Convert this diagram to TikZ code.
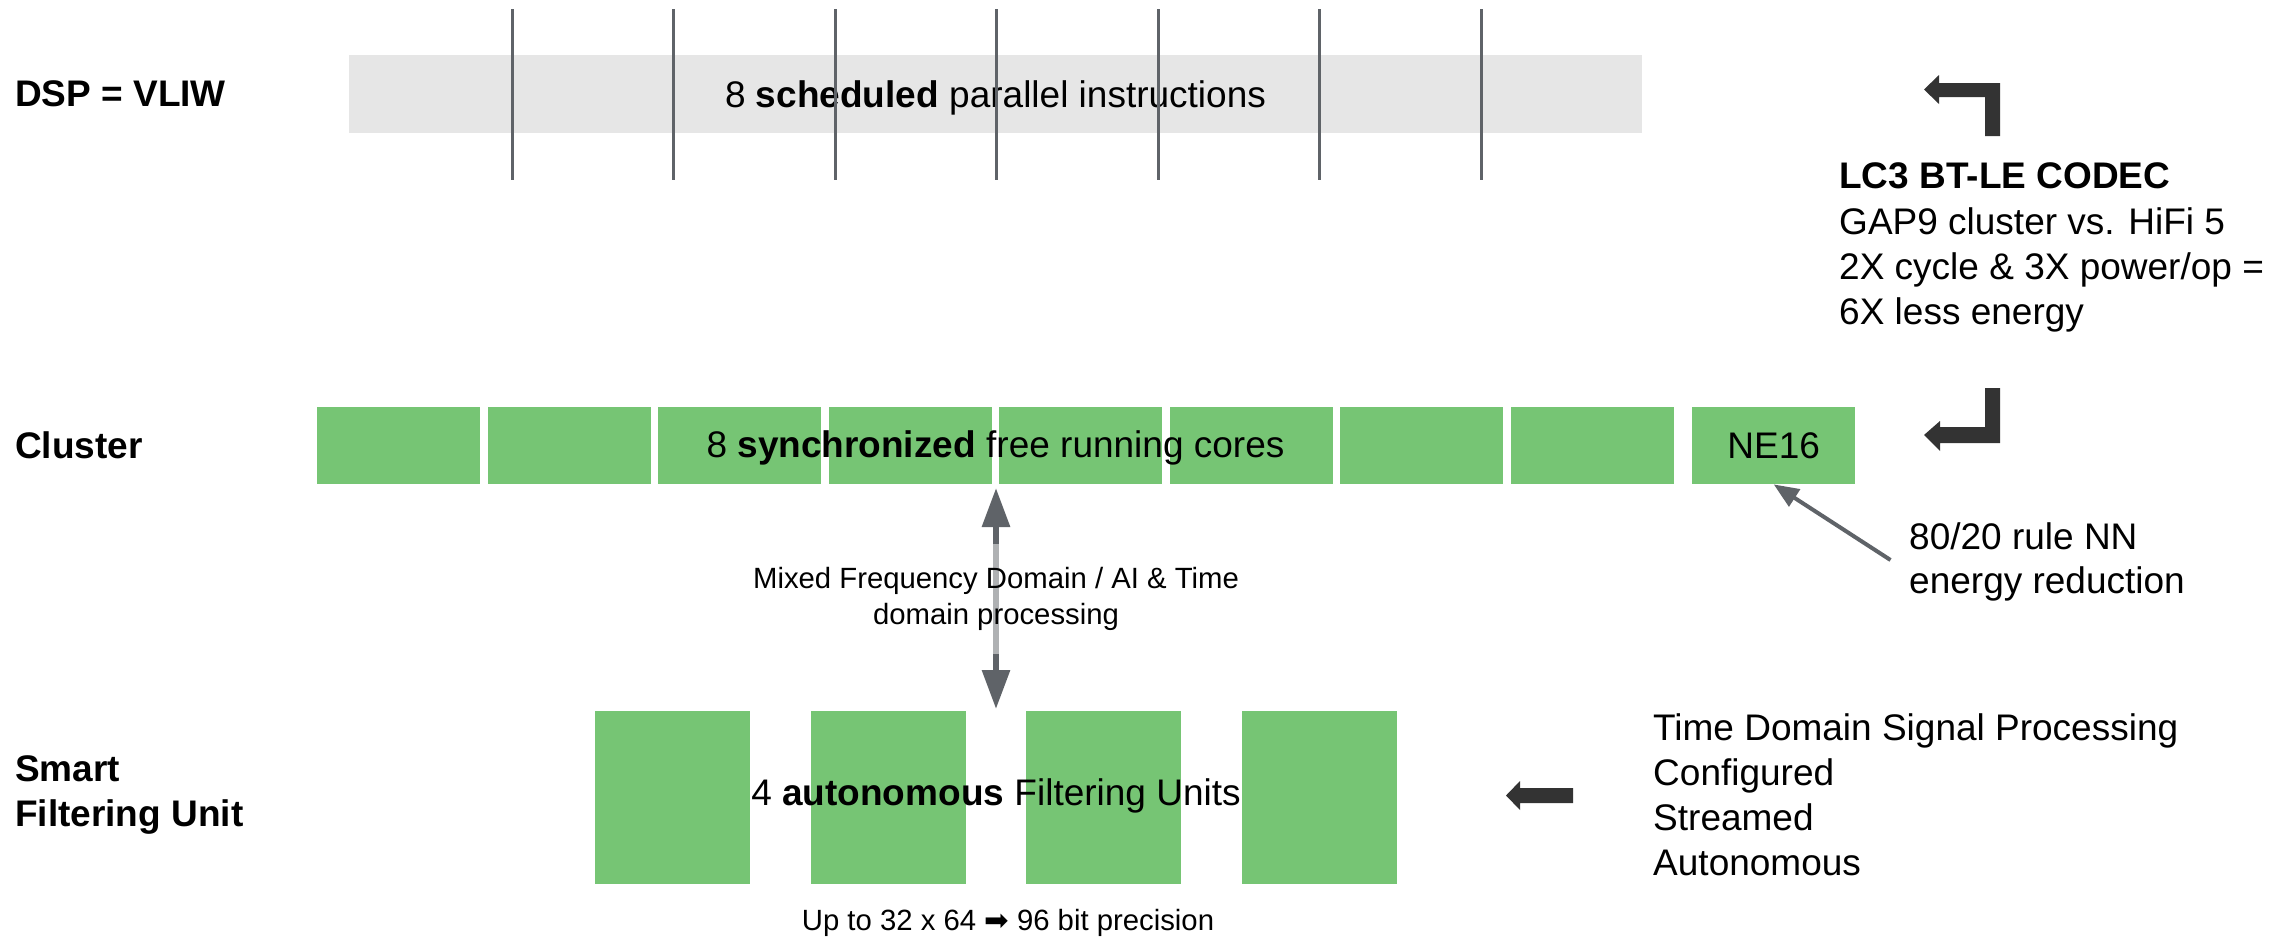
\documentclass[tikz,border=0pt]{standalone}
\usepackage{fontspec}
\setmainfont{Liberation Sans}
\newfontfamily\arrowfont{DejaVu Sans}
\usetikzlibrary{arrows.meta}
\definecolor{coregreen}{RGB}{118,197,116}
\definecolor{barwash}{RGB}{230,230,230}
\definecolor{slate}{RGB}{95,99,104}
\definecolor{ink}{RGB}{51,51,51}
\begin{document}
\begin{tikzpicture}[x=1pt,y=-1pt,
  big/.style={font=\fontsize{37}{45}\selectfont, inner sep=0pt, anchor=base west},
  small/.style={font=\fontsize{29.3}{36}\selectfont, inner sep=0pt, anchor=base west},
  capbox/.style={text height=26.5pt, text depth=0pt},
  vliwbar/.style={big, capbox, fill=barwash, minimum width=1293pt, minimum height=78pt, anchor=center},
  core/.style={fill=coregreen, draw=none, inner sep=0pt, minimum width=163pt, minimum height=77pt, anchor=north west},
  unit/.style={fill=coregreen, draw=none, inner sep=0pt, minimum width=155pt, minimum height=173pt, anchor=north west},
  slot/.style={draw=slate, line width=3pt},
  link/.style={draw=slate, line width=6pt},
  bigarrow/.style={fill=ink, draw=none}
]
\useasboundingbox (0,0) rectangle (2281,937);

% row labels
\node[big] (lbldsp) at (15,106) {\textbf{DSP = VLIW}};
\node[big] (lblcluster) at (15,458) {\textbf{Cluster}};
\node[big] (lblsfu1) at (15,781) {\textbf{Smart}};
\node[big] (lblsfu2) at (15,826) {\textbf{Filtering Unit}};

% VLIW instruction word with its issue slots
\node[vliwbar] (vliw) at (995.5,94) {8 \textbf{scheduled} parallel instructions};
\foreach \i in {0,...,6}
  \draw[slot] ({512+161.5*\i},9) -- ({512+161.5*\i},180);

% cluster cores and the neural engine
\foreach \i in {1,...,8}
  \node[core] (c\i) at ({317+170.5*(\i-1)},407) {};
\node[core, big, capbox, anchor=north west] (ne) at (1692,407) {NE16};
\node[big, anchor=base] (coretxt) at (995.5,457.5) {8 \textbf{synchronized} free running cores};

% smart filtering units
\foreach \i in {1,...,4}
  \node[unit] (f\i) at ({595+215.5*(\i-1)},711) {};
\node[big, anchor=base] (futxt) at (996,805) {4 \textbf{autonomous} Filtering Units};
\node[small, anchor=base] (prec) at (1008,930) {Up to 32 x 64 {\arrowfont ➡} 96 bit precision};

% cluster <-> filtering units
\coordinate (mixtop) at (996,488);
\coordinate (mixbot) at (996,709);
\draw[link, {Triangle[length=39pt,width=27pt]}-{Triangle[length=39pt,width=27pt]}] (mixtop) -- (mixbot);
\node[small, align=center, anchor=center, fill=white, fill opacity=0.5, text opacity=1,
      inner xsep=4pt, minimum height=110pt] (mixlbl) at (996,599)
  {Mixed Frequency Domain / AI \& Time\\domain processing};

% NE16 note
\coordinate (nnnote) at (1890.5,560);
\draw[draw=slate, line width=4pt, -{Triangle[length=25pt,width=20pt]}] (nnnote) -- (ne.south);
\node[big] (nn1) at (1909,549) {80/20 rule NN};
\node[big] (nn2) at (1909,593) {energy reduction};

% codec comparison with elbow arrows
\fill[bigarrow] (1924,89.5) -- (1939,75) -- (1939,83) -- (2000,83) -- (2000,136)
  -- (1985,136) -- (1985,97) -- (1939,97) -- (1939,104) -- cycle;
\fill[bigarrow] (1924,435) -- (1940,421) -- (1940,427) -- (1985,427) -- (1985,388)
  -- (2000,388) -- (2000,443) -- (1940,443) -- (1940,451) -- cycle;
\node[big] (lc1) at (1839,188) {\textbf{LC3 BT-LE CODEC}};
\node[big] (lc2) at (1839,234) {GAP9 cluster vs. HiFi 5};
\node[big] (lc3) at (1839,279) {2X cycle \& 3X power/op =};
\node[big] (lc4) at (1839,324) {6X less energy};

% filtering unit notes
\fill[bigarrow] (1506,795.5) -- (1520,781) -- (1520,788) -- (1573,788) -- (1573,803)
  -- (1520,803) -- (1520,810) -- cycle;
\node[big] (td1) at (1653,740) {Time Domain Signal Processing};
\node[big] (td2) at (1653,785) {Configured};
\node[big] (td3) at (1653,830) {Streamed};
\node[big] (td4) at (1653,875) {Autonomous};
\end{tikzpicture}
\end{document}
